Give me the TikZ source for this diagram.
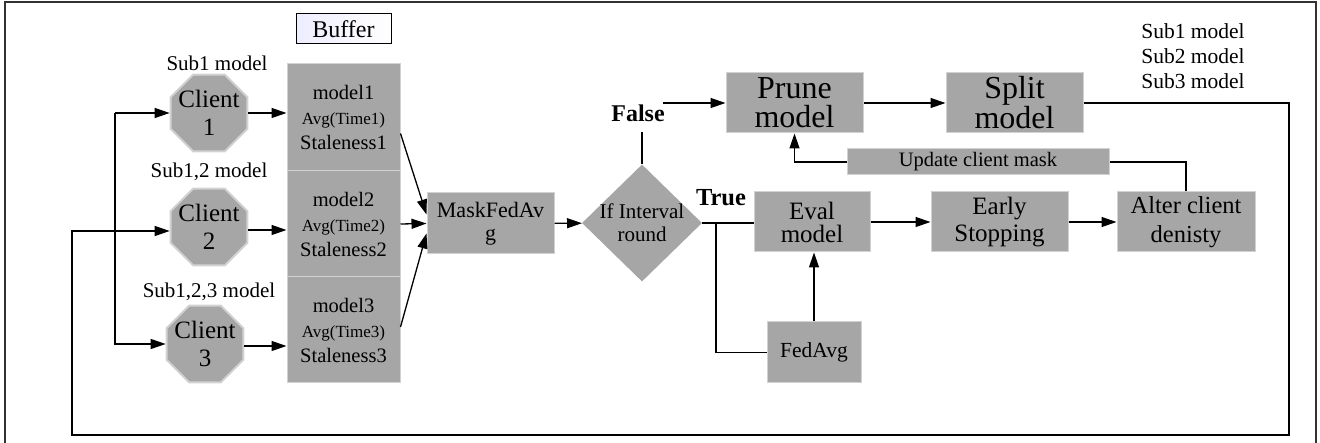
\documentclass[tikz,border=0pt]{standalone}
\usepackage{fontspec}
\setmainfont{Liberation Serif}
\usetikzlibrary{shapes.geometric,arrows.meta,calc}
\newcommand\setfs[2]{\fontsize{#1}{#2}\selectfont}
\definecolor{boxgray}{RGB}{166,166,166}
\definecolor{boxedge}{RGB}{210,210,210}
\definecolor{framec}{RGB}{50,50,50}
\tikzset{
  box/.style={fill=boxgray, draw=boxedge, line width=1pt, inner sep=0pt, align=center},
  oct/.style={regular polygon, regular polygon sides=8, minimum size=83pt, inner sep=0pt, fill=boxgray, draw=boxedge, line width=2pt},
  txt/.style={align=center, inner sep=0pt},
  conn/.style={line width=1.3pt, black},
  arr/.style={conn, -{Triangle[length=15pt,width=10pt]}},
}
\begin{document}
\begin{tikzpicture}[x=1pt,y=-1pt]
\useasboundingbox (0,0) rectangle (1320,443);
\draw[line width=2pt, framec] (5,2) rectangle (1316,470);

% buffer label
\node[draw=black, line width=1pt, left color=blue!7, right color=white, minimum width=95pt, minimum height=30pt, inner sep=0pt, font=\setfs{24}{26}] (buf) at (343.5,29) {Buffer};

% clients
\node[oct] (c1) at (209,113) {};
\node[oct] (c2) at (209,227) {};
\node[oct] (c3) at (205,344) {};
\node[txt, font=\setfs{25}{28}] (c1t) at (c1) {Client\\1};
\node[txt, font=\setfs{25}{28}] (c2t) at (c2) {Client\\2};
\node[txt, font=\setfs{25}{28}] (c3t) at (c3) {Client\\3};
\node[txt, font=\setfs{21}{24}] (s1) at (217,63) {Sub1 model};
\node[txt, font=\setfs{21}{24}] (s2) at (209,172) {Sub1,2 model};
\node[txt, font=\setfs{21}{24}] (s3) at (209,292) {Sub1,2,3 model};

% buffer cells
\node[box, minimum width=113pt, minimum height=107pt, font=\setfs{20.5}{25}] (b1) at (343.5,117.5) {model1\\{\setfs{17}{25}Avg(Time1)}\\Staleness1};
\node[box, minimum width=113pt, minimum height=106pt, font=\setfs{20.5}{25}] (b2) at (343.5,224) {model2\\{\setfs{17}{25}Avg(Time2)}\\Staleness2};
\node[box, minimum width=113pt, minimum height=106pt, font=\setfs{20.5}{25}] (b3) at (343.5,330) {model3\\{\setfs{17}{25}Avg(Time3)}\\Staleness3};

% aggregation
\node[box, minimum width=127pt, minimum height=61pt, font=\setfs{22}{23}] (mask) at (490.5,223.5) {MaskFedAv\\g};
\node[diamond, fill=boxgray, minimum width=120pt, minimum height=117pt, inner sep=0pt] (dec) at (642,223) {};
\node[txt, font=\setfs{21}{23}] (dect) at (dec) {If Interval\\round};
\node[txt, font=\bfseries\setfs{24}{25}] (false) at (638,113) {False};
\node[txt, font=\bfseries\setfs{24.5}{25}] (true) at (721,198) {True};

% right part
\node[box, minimum width=137pt, minimum height=60pt, font=\setfs{32}{29}] (prune) at (794.5,103) {Prune\\model};
\node[box, minimum width=137pt, minimum height=60pt, font=\setfs{32}{29}] (split) at (1014.5,103) {Split\\model};
\node[txt, font=\setfs{21.5}{25}, align=left] (subs) at (1193,56) {Sub1 model\\Sub2 model\\Sub3 model};
\node[box, minimum width=262pt, minimum height=26pt, font=\setfs{20.5}{22}] (update) at (978,162) {Update client mask};
\node[box, minimum width=116pt, minimum height=60pt, font=\setfs{25}{23}] (eval) at (812,222) {Eval\\model};
\node[box, minimum width=137pt, minimum height=60pt, font=\setfs{25}{27}] (early) at (999.5,222) {Early\\Stopping};
\node[box, minimum width=138pt, minimum height=60pt, font=\setfs{24.5}{29}] (alter) at (1186,222) {Alter client\\denisty};
\node[box, minimum width=94pt, minimum height=61pt, font=\setfs{21.5}{24}] (fedavg) at (814,352.5) {FedAvg};

% coordinates
\coordinate (jt) at (115,113);
\coordinate (jb) at (115,344);
\coordinate (fb) at (72,231);
\coordinate (br) at (1289,435);
\coordinate (bl) at (72,435);
\coordinate (ftop) at (642,132);
\coordinate (fa) at (663,103);
\coordinate (tb) at (716,223);
\coordinate (c2o) at ($(c2.east)+(0,3)$);
\coordinate (c3o) at ($(c3.east)+(0,2)$);
\coordinate (b1o) at ($(b1.east)+(0,16)$);
\coordinate (b3o) at ($(b3.east)+(0,-3)$);
\coordinate (m1) at ($(mask.west)+(0,-9)$);
\coordinate (m3) at ($(mask.west)+(0,10)$);

% connectors
\draw[arr] (jt) -- (c1);
\draw[arr] (jt) -- (jb) -- (c3);
\draw[arr] (split.east) -| (br) -- (bl) -- (fb) -- (c2.west |- fb);
\draw[arr] (c1.east) -- (c1.east -| b1.west);
\draw[arr] (c2o) -- (c2o -| b2.west);
\draw[arr] (c3o) -- (c3o -| b3.west);
\draw[arr] (b1o) -- (m1);
\draw[arr] (b2.east) -- (mask.west);
\draw[arr] (b3o) -- (m3);
\draw[arr] (mask) -- (dec);
\draw[conn] (dec.north) -- (ftop);
\draw[arr] (fa) -- (fa -| prune.west);
\draw[conn] (dec.east) -- (dec.east -| eval.west);
\draw[conn] (tb) |- (fedavg.west);
\draw[arr] (fedavg.north) -- (fedavg.north |- eval.south);
\draw[arr] (eval) -- (early);
\draw[arr] (early) -- (alter);
\draw[conn] (alter.north) |- (update.east);
\draw[arr] (update.west) -| (prune.south);
\draw[arr] (prune) -- (split);
\end{tikzpicture}
\end{document}
